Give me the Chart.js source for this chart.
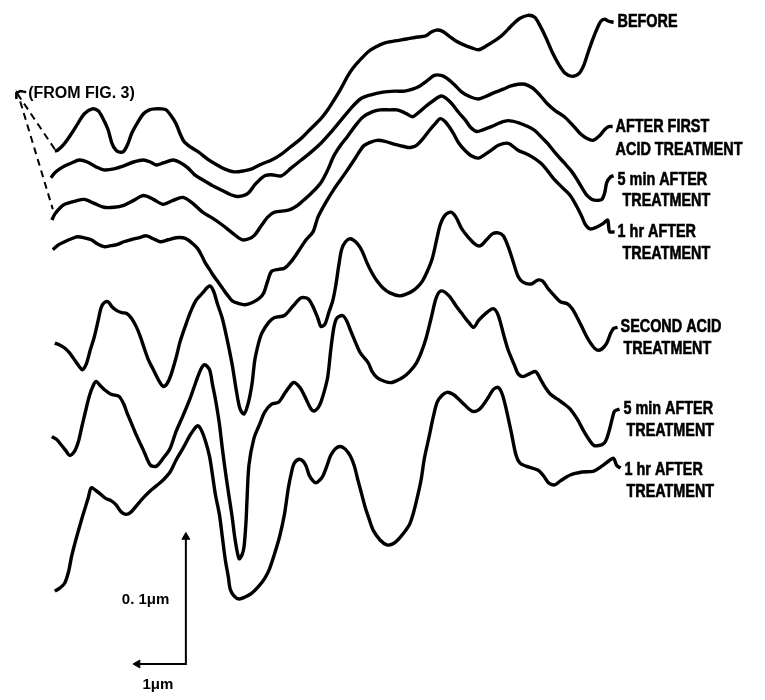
<!DOCTYPE html>
<html>
<head>
<meta charset="utf-8">
<script src="https://cdn.jsdelivr.net/npm/chart.js@4.4.0/dist/chart.umd.min.js"></script>
<style>
  body { margin: 0; background: #fff; }
  #wrap { width: 765px; height: 700px; }
</style>
</head>
<body>
<div id="wrap"><canvas id="profiles" width="765" height="700"></canvas></div>
<script>
// traces, [x, y] in figure units (y grows downward)
var before = [[50,148],[53,147],[60,140],[67,130],[74,119],[80,110],[88,105],[94,107],[99,115],[104,126],[108,140],[112,147],[116,149],[120,148],[124,141],[128,130],[134,119],[140,110],[146,106],[152,105],[158,105],[163,106],[168,112],[173,120],[177,130],[181,138],[188,144],[196,149],[205,156],[213,161],[222,166],[232,169],[242,168],[250,166],[260,161],[270,157],[280,151],[290,143],[300,135],[310,125],[320,115],[327,106],[334,95],[340,85],[347,72],[353,63],[360,55],[368,47],[376,42],[385,38],[395,36],[407,34],[418,32],[426,31],[432,27],[437,25],[443,26],[450,31],[457,36],[465,40],[473,43],[480,45],[488,41],[496,36],[503,31],[510,24],[516,18],[522,13],[530,10],[537,12],[542,20],[548,32],[555,48],[562,61],[568,69],[575,72],[582,69],[587,60],[591,48],[596,34],[600,24],[604,16],[608,14],[612,16],[617,17]];
var firstAcid = [[46,175],[50,170],[55,166],[60,163],[67,160],[75,157],[83,159],[92,164],[100,167],[110,166],[120,163],[130,159],[140,157],[147,159],[153,162],[160,160],[170,157],[178,160],[185,165],[192,172],[200,177],[210,183],[220,188],[228,192],[235,194],[242,193],[247,190],[253,182],[258,177],[263,173],[270,172],[280,173],[290,165],[300,157],[310,149],[320,140],[330,129],[340,117],[350,105],[360,95],[370,91],[383,88],[395,87],[405,87],[413,85],[420,82],[427,77],[435,71],[442,71],[448,74],[455,80],[463,88],[472,93],[480,95],[488,92],[497,88],[505,85],[512,82],[520,80],[527,80],[535,84],[543,92],[550,100],[558,107],[567,113],[575,121],[583,130],[590,135],[596,137],[603,132],[608,126],[612,123],[616,123]];
var fiveMinA = [[47,218],[50,212],[55,206],[60,202],[70,199],[80,197],[90,201],[100,205],[110,205],[120,203],[130,198],[140,193],[150,197],[160,202],[170,198],[180,195],[190,201],[200,210],[210,216],[220,223],[230,231],[240,238],[247,237],[253,233],[260,223],[266,215],[273,210],[287,208],[295,204],[300,200],[310,191],[320,180],[327,167],[333,153],[340,142],[347,133],[355,122],[363,113],[372,108],[380,106],[390,106],[397,106],[403,108],[407,110],[413,113],[420,108],[427,102],[435,96],[442,92],[448,95],[453,100],[460,109],[467,117],[472,124],[478,128],[485,126],[493,123],[502,119],[510,117],[520,119],[530,123],[537,127],[545,135],[550,140],[558,150],[567,160],[574,168],[580,177],[586,187],[590,193],[595,197],[600,198],[605,197],[608,190],[610,180],[614,174],[617,173]];
var oneHrA = [[48,248],[54,243],[60,240],[67,237],[73,235],[80,236],[87,238],[93,242],[100,245],[107,244],[113,243],[120,240],[127,238],[135,236],[143,234],[150,237],[157,240],[165,238],[173,236],[180,236],[185,238],[190,242],[195,247],[199,254],[203,262],[207,268],[210,273],[215,280],[220,287],[225,294],[230,300],[237,303],[243,304],[250,302],[257,298],[262,292],[266,280],[270,270],[277,268],[283,267],[290,260],[297,250],[305,238],[312,230],[317,215],[325,200],[333,187],[340,177],[347,167],[355,155],[363,143],[370,139],[377,137],[385,138],[395,141],[407,144],[412,144],[417,142],[423,136],[430,127],[436,120],[441,115],[446,118],[450,123],[455,131],[460,140],[466,147],[473,153],[480,155],[487,151],[493,147],[500,142],[510,140],[520,147],[527,150],[533,153],[543,160],[550,168],[557,177],[565,185],[573,193],[580,205],[585,215],[588,222],[593,227],[600,225],[607,221],[611,218],[612,225],[613,230],[618,230]];
var secondAcid = [[50,343],[55,345],[60,348],[65,353],[70,360],[75,367],[78,370],[82,364],[86,350],[90,337],[94,320],[97,307],[100,302],[104,301],[108,306],[113,310],[118,312],[123,313],[128,318],[133,327],[137,337],[141,349],[145,360],[150,370],[155,380],[160,387],[164,384],[168,375],[173,358],[177,342],[182,327],[187,313],[193,300],[200,292],[207,285],[211,290],[215,303],[220,318],[225,340],[230,365],[234,390],[238,410],[242,415],[246,405],[250,385],[253,360],[257,342],[260,333],[267,322],[273,317],[283,315],[292,305],[300,297],[307,298],[312,306],[317,318],[320,326],[324,324],[328,312],[332,300],[335,285],[338,265],[341,248],[345,240],[350,237],[357,242],[362,250],[367,262],[372,272],[377,280],[383,287],[390,292],[400,295],[407,293],[413,290],[418,286],[423,280],[428,270],[433,257],[437,240],[441,223],[446,213],[452,210],[457,215],[463,227],[470,236],[477,243],[482,244],[488,238],[494,232],[500,231],[505,234],[510,245],[515,260],[520,275],[525,281],[533,283],[540,279],[545,280],[550,287],[557,295],[563,301],[570,303],[575,308],[580,317],[585,327],[590,337],[595,345],[600,350],[605,349],[610,343],[614,333],[617,328],[621,327]];
var fiveMinB = [[47,438],[52,441],[57,447],[61,452],[65,457],[70,453],[74,443],[77,430],[81,413],[85,397],[89,386],[92,382],[96,386],[100,390],[107,395],[115,397],[120,405],[123,413],[128,425],[133,437],[140,452],[147,467],[153,468],[160,460],[167,450],[173,433],[180,417],[187,400],[193,383],[198,370],[202,365],[207,370],[210,385],[213,400],[217,425],[220,450],[224,480],[227,500],[230,520],[233,543],[237,562],[240,558],[242,550],[244,525],[245,503],[247,467],[252,440],[258,425],[263,413],[270,405],[277,403],[284,393],[292,383],[296,385],[300,390],[305,400],[310,410],[313,412],[317,409],[320,403],[324,390],[327,377],[330,350],[333,328],[336,318],[342,315],[346,320],[350,330],[355,342],[360,353],[368,363],[372,372],[377,378],[385,382],[392,383],[403,378],[410,372],[417,363],[422,352],[427,337],[432,317],[437,297],[442,290],[450,295],[457,305],[463,313],[470,322],[475,327],[480,320],[487,313],[495,308],[500,315],[505,333],[510,350],[517,367],[520,374],[525,377],[532,374],[538,372],[543,380],[547,387],[553,395],[560,400],[567,405],[573,410],[580,420],[587,433],[592,441],[597,447],[602,447],[607,445],[610,440],[613,430],[616,418],[618,412],[623,410]];
var oneHrB = [[50,595],[55,592],[60,587],[64,575],[67,560],[70,548],[73,537],[77,523],[80,513],[84,500],[87,490],[92,493],[97,497],[102,501],[107,503],[112,507],[117,514],[122,517],[127,515],[133,508],[140,500],[147,493],[153,488],[160,482],[167,474],[173,462],[180,450],[187,437],[191,431],[195,427],[199,432],[203,443],[207,458],[210,477],[213,497],[217,517],[220,540],[223,563],[226,580],[228,593],[232,600],[237,603],[243,601],[250,597],[257,590],[263,582],[268,572],[273,557],[278,540],[283,517],[287,490],[290,475],[293,465],[298,461],[302,463],[305,468],[308,477],[312,483],[315,485],[319,482],[322,478],[326,468],[330,457],[335,450],[340,448],[345,451],[350,458],[354,468],[357,480],[361,495],[365,510],[369,522],[373,533],[380,543],[387,548],[393,547],[398,543],[404,536],[410,527],[414,515],[417,503],[420,490],[422,480],[425,460],[430,437],[434,418],[438,403],[443,396],[448,393],[454,395],[460,400],[466,406],[473,412],[478,412],[483,408],[490,398],[495,390],[500,388],[504,395],[508,410],[513,433],[518,457],[522,465],[528,468],[540,472],[546,478],[551,485],[557,487],[563,483],[573,477],[585,474],[597,473],[605,468],[613,462],[617,460],[620,467],[624,470]];

// "(FROM FIG. 3)" pointer and the scale bar
var fromFigDash = [[50,146],[13,91],[48,207]];
var fromFigHook = [[11,95],[11,89],[15,87],[21,88]];
var scaleBar = [[183,540],[183,669],[134,669]];
var arrowUp = [[183,540]];
var arrowLeft = [[134,669]];

// labels
var labelText = ['BEFORE', 'AFTER FIRST', 'ACID TREATMENT', '5 min AFTER', 'TREATMENT', '1 hr AFTER', 'TREATMENT',
                 'SECOND ACID', 'TREATMENT', '5 min AFTER', 'TREATMENT', '1 hr AFTER', 'TREATMENT'];
var labelX = [621, 619, 619, 621, 626, 621, 626, 624, 627, 627, 630, 628, 630];
var labelY = [17, 123, 147, 177, 199, 230, 253, 327, 349, 410, 432, 472, 494];

function trace(pts, extra) {
  var ds = {
    data: pts.map(function(p) { return {x: p[0], y: p[1]}; }),
    showLine: true,
    borderColor: '#000',
    borderWidth: 3.4,
    pointRadius: 0,
    tension: 0.3,
    fill: false,
    clip: false
  };
  return Object.assign(ds, extra || {});
}

const textPlugin = {
  id: 'figureText',
  afterDatasetsDraw: (chart) => {
    const {ctx} = chart;
    const xs = chart.scales.x, ys = chart.scales.y;
    ctx.save();
    ctx.fillStyle = '#000';
    ctx.strokeStyle = '#000';
    ctx.lineWidth = 0.6;
    ctx.textBaseline = 'middle';
    ctx.textAlign = 'left';
    ctx.font = 'bold 18px "Liberation Sans", Arial, sans-serif';
    for (var i = 0; i < labelText.length; i++) {
      ctx.save();
      ctx.translate(xs.getPixelForValue(labelX[i]), ys.getPixelForValue(labelY[i]));
      ctx.scale(0.8, 1);
      ctx.fillText(labelText[i], 0, 0);
      ctx.strokeText(labelText[i], 0, 0);
      ctx.restore();
    }
    ctx.font = 'bold 16px "Liberation Sans", Arial, sans-serif';
    ctx.fillText('(FROM FIG. 3)', xs.getPixelForValue(23), ys.getPixelForValue(89));
    ctx.font = 'bold 15px "Liberation Sans", Arial, sans-serif';
    ctx.fillText('0. 1μm', xs.getPixelForValue(118), ys.getPixelForValue(604));
    ctx.fillText('1μm', xs.getPixelForValue(139), ys.getPixelForValue(690));
    ctx.restore();
  }
};

var config = {
  type: 'scatter',
  data: {
    datasets: [
      trace(before),
      trace(firstAcid),
      trace(fiveMinA),
      trace(oneHrA),
      trace(secondAcid),
      trace(fiveMinB),
      trace(oneHrB),
      trace(fromFigDash, {borderWidth: 2, borderDash: [7, 5], tension: 0}),
      trace(fromFigHook, {borderWidth: 2.5, tension: 0}),
      trace(scaleBar, {borderWidth: 2, tension: 0}),
      trace(arrowUp, {showLine: false, pointStyle: 'triangle', pointRadius: 4.5, rotation: 0, backgroundColor: '#000', borderWidth: 1}),
      trace(arrowLeft, {showLine: false, pointStyle: 'triangle', pointRadius: 4.5, rotation: -90, backgroundColor: '#000', borderWidth: 1})
    ]
  },
  options: {
    responsive: false,
    animation: false,
    layout: { padding: 0 },
    plugins: {
      legend: { display: false },
      tooltip: { enabled: false }
    },
    scales: {
      x: { type: 'linear', min: 0, max: 765, display: false },
      y: { type: 'linear', min: 0, max: 700, reverse: true, display: false }
    }
  },
  plugins: [textPlugin]
};

window.onload = function() {
  var ctx = document.getElementById('profiles').getContext('2d');
  window.profileChart = new Chart(ctx, config);
};
</script>
</body>
</html>
